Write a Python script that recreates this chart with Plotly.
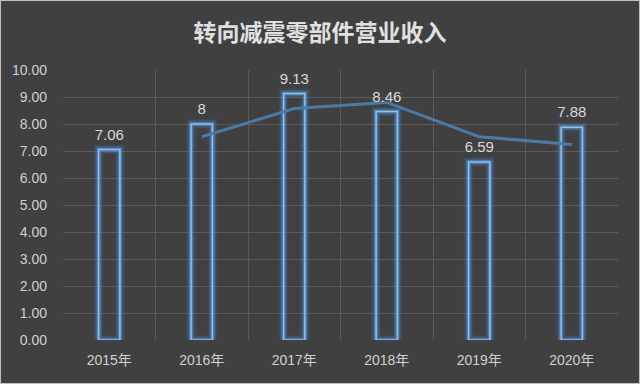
import plotly.graph_objects as go

years = ["2015年", "2016年", "2017年", "2018年", "2019年", "2020年"]
revenue = [7.06, 8, 9.13, 8.46, 6.59, 7.88]
labels = ["7.06", "8", "9.13", "8.46", "6.59", "7.88"]
trend_years = ["2016年", "2017年", "2018年", "2019年", "2020年"]
trend = [7.53, 8.57, 8.80, 7.53, 7.24]

BG = "#404040"
FONT = "Noto Sans CJK SC, sans-serif"
NUMFONT = "Liberation Sans, Noto Sans CJK SC, sans-serif"

fig = go.Figure()
# glow layers
for w, c in [(10, "rgba(70,140,220,0.10)"), (7, "rgba(80,150,230,0.20)"), (4, "rgba(95,160,235,0.45)")]:
    fig.add_trace(go.Bar(x=years, y=revenue, width=0.23,
                         marker=dict(color="rgba(0,0,0,0)", line=dict(color=c, width=w)),
                         hoverinfo="skip", showlegend=False))
fig.add_trace(go.Bar(x=years, y=revenue, width=0.23,
                     marker=dict(color="rgba(0,0,0,0)", line=dict(color="#8ec0f0", width=1.5)),
                     showlegend=False))
fig.add_trace(go.Scatter(x=trend_years, y=trend, mode="lines",
                         line=dict(color="#4a7aa5", width=3), showlegend=False))
fig.add_trace(go.Scatter(x=years, y=revenue, mode="markers+text", text=labels,
                         textposition="top center", cliponaxis=False,
                         marker=dict(size=8, opacity=0),
                         textfont=dict(color="#d9d9d9", size=15, family=NUMFONT),
                         hoverinfo="skip", showlegend=False))

fig.update_layout(
    width=640, height=384,
    paper_bgcolor=BG, plot_bgcolor=BG,
    barmode="overlay",
    margin=dict(l=63, r=22, t=70, b=44),
    title=dict(text="<b>转向减震零部件营业收入</b>", x=0.5, xanchor="center",
               y=0.915, yanchor="middle",
               font=dict(color="#e0e0e0", size=23, family=FONT)),
    font=dict(family=NUMFONT, color="#d0d0d0", size=14),
    shapes=[dict(type="rect", xref="paper", yref="paper",
                 x0=-63/555, x1=1+22/555, y0=-44/270, y1=1+70/270,
                 line=dict(color="#bfbfbf", width=2), layer="above")],
)
fig.update_xaxes(type="category", tickson="boundaries", showgrid=True,
                 gridcolor="#5a5a5a", gridwidth=1, ticks="", showline=False,
                 ticklabelstandoff=10,
                 tickfont=dict(color="#d0d0d0", size=14), zeroline=False)
fig.update_yaxes(range=[0, 10], dtick=1, tickformat=".2f", showgrid=True,
                 gridcolor="#5a5a5a", gridwidth=1, zeroline=False, showline=False,
                 ticklabelstandoff=15,
                 tickfont=dict(color="#d0d0d0", size=14), ticks="", ticklen=0)

fig.write_html("out.html", config={"displayModeBar": False},
               post_script="document.body.style.margin='0';")
